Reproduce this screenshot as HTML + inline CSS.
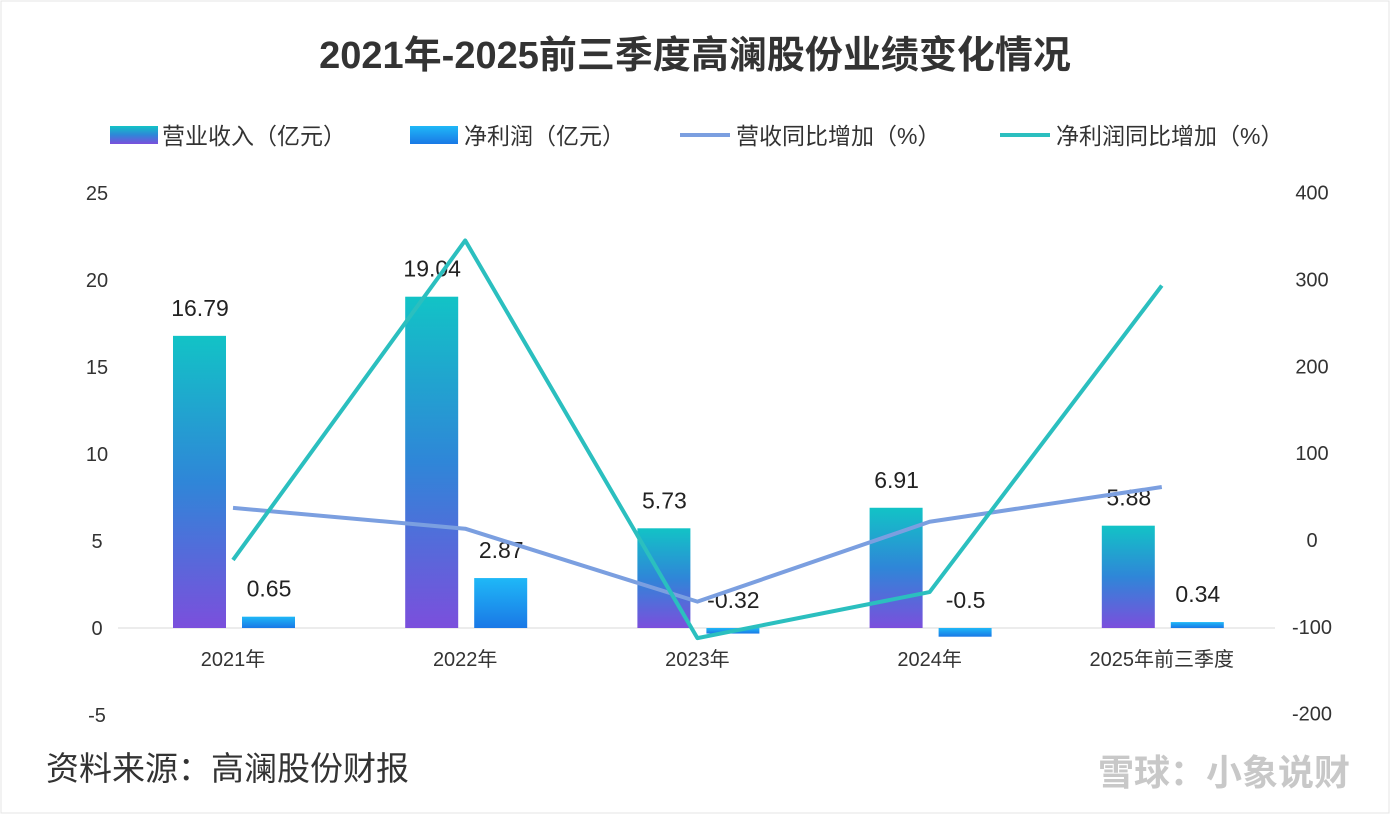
<!DOCTYPE html>
<html><head><meta charset="utf-8">
<style>
html,body{margin:0;padding:0;background:#fff;}
body{width:1390px;height:814px;overflow:hidden;font-family:"Liberation Sans","Noto Sans CJK SC",sans-serif;}
</style></head>
<body>
<svg id="chart" width="1390" height="814" xmlns="http://www.w3.org/2000/svg" font-family="Liberation Sans, Noto Sans CJK SC, sans-serif">
<defs>
<linearGradient id="gRev" x1="0" y1="0" x2="0" y2="1"><stop offset="0" stop-color="#12c3c6"/><stop offset="0.5" stop-color="#2f86d8"/><stop offset="1" stop-color="#7b4fdc"/></linearGradient>
<linearGradient id="gNet" x1="0" y1="0" x2="0" y2="1"><stop offset="0" stop-color="#1fb8f7"/><stop offset="1" stop-color="#1a78e6"/></linearGradient>
</defs>
<rect x="1" y="1" width="1388" height="812" fill="#fff" stroke="#e4e4e4"/>
<text x="695" y="68" text-anchor="middle" font-size="38" font-weight="bold" fill="#333">2021年-2025前三季度高澜股份业绩变化情况</text>
<g font-size="23" fill="#333">
<rect x="110" y="126" width="48" height="18" fill="url(#gRev)"/>
<text x="162" y="144">营业收入（亿元）</text>
<rect x="410" y="126" width="48" height="18" fill="url(#gNet)"/>
<text x="464" y="144">净利润（亿元）</text>
<line x1="680" y1="135" x2="730" y2="135" stroke="#7b9fe0" stroke-width="4"/>
<text x="736" y="144">营收同比增加（%）</text>
<line x1="1000" y1="135" x2="1050" y2="135" stroke="#2bbfbf" stroke-width="4"/>
<text x="1056" y="144">净利润同比增加（%）</text>
</g>
<g id="plot"></g>
<text x="46" y="780" font-size="33" fill="#333">资料来源：高澜股份财报</text>
<text x="1350" y="785" text-anchor="end" font-size="36" fill="#c8c8c8" font-weight="bold">雪球：小象说财</text>
</svg>
<script>
const categories=["2021年","2022年","2023年","2024年","2025年前三季度"];
const revenue=[16.79,19.04,5.73,6.91,5.88];
const netProfit=[0.65,2.87,-0.32,-0.5,0.34];
const revenueGrowth=[37,13,-71,21,61];
const netGrowth=[-23,345,-113,-60,293];
const leftTicks=[-5,0,5,10,15,20,25];
const rightTicks=[-200,-100,0,100,200,300,400];
const NS="http://www.w3.org/2000/svg";
const g=document.getElementById('plot');
const yL=v=>628-v*17.4;
const yR=v=>540-v*0.8683;
const xC=i=>233+i*232.2;
function mk(t,a,txt){const e=document.createElementNS(NS,t);for(const k in a)e.setAttribute(k,a[k]);if(txt!==undefined)e.textContent=txt;g.appendChild(e);return e;}
let ax=mk('line',{x1:118,x2:1275,y1:yL(0),y2:yL(0),stroke:'#d9d9d9','stroke-width':1});


leftTicks.forEach(v=>{const t=mk('text',{x:97,y:yL(v)+7,'text-anchor':'middle','font-size':20,fill:'#333'},String(v));

});
rightTicks.forEach(v=>{const t=mk('text',{x:1312,y:yR(v)+7,'text-anchor':'middle','font-size':20,fill:'#333'},String(v));

});
categories.forEach((c,i)=>{
const t=mk('text',{x:xC(i),y:666,'text-anchor':'middle','font-size':20,fill:'#333'},c);


const rv=revenue[i],r=mk('rect',{x:xC(i)-60,width:53,y:Math.min(yL(rv),yL(0)),height:Math.abs(yL(rv)-yL(0)),fill:'url(#gRev)'});


const lv=mk('text',{x:xC(i)-33,y:yL(rv)-20,'text-anchor':'middle','font-size':23,fill:'#222'},String(rv));


const nv=netProfit[i],n=mk('rect',{x:xC(i)+9,width:53,y:Math.min(yL(nv),yL(0)),height:Math.max(Math.abs(yL(nv)-yL(0)),2),fill:'url(#gNet)'});


const top=Math.min(yL(nv),yL(0));
const ln=mk('text',{x:xC(i)+36,y:top-20,'text-anchor':'middle','font-size':23,fill:'#222'},String(nv));


});
const p1=mk('polyline',{points:revenueGrowth.map((v,i)=>xC(i)+','+yR(v)).join(' '),fill:'none',stroke:'#7b9fe0','stroke-width':4,'stroke-linejoin':'round'});


const p2=mk('polyline',{points:netGrowth.map((v,i)=>xC(i)+','+yR(v)).join(' '),fill:'none',stroke:'#2bbfbf','stroke-width':4,'stroke-linejoin':'round'});


</script>
</body></html>
